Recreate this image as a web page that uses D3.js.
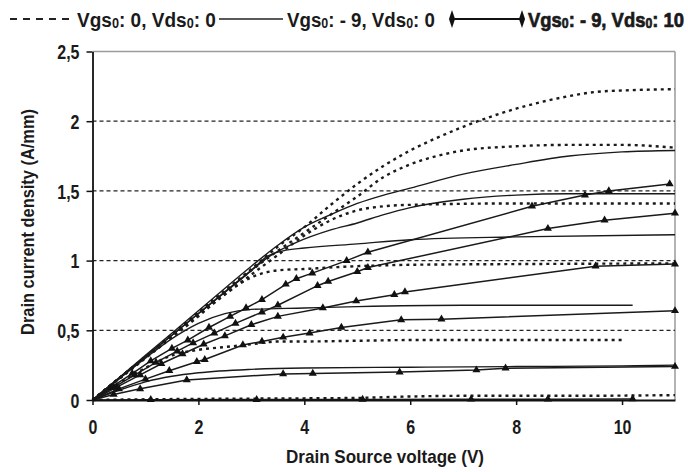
<!DOCTYPE html>
<html><head><meta charset="utf-8">
<script src="https://cdn.jsdelivr.net/npm/d3@7"></script>
<style>
body{margin:0;background:#fff}
text{font-family:"Liberation Sans",Arial,sans-serif;font-weight:bold;fill:#1a1a1a}
</style>
</head><body><svg id="c" width="688" height="472"></svg>
<script>
// ---- tick labels ----
const xTicks = [0, 2, 4, 6, 8, 10];
const yTicks = [0, 0.5, 1, 1.5, 2, 2.5];
const yTickLabels = ["0", "0,5", "1", "1,5", "2", "2,5"];
const xTitle = "Drain Source voltage (V)";
const yTitle = "Drain current density (A/mm)";

// ---- series: Vgs0: 0, Vds0: 0 (dashed) [V, A/mm] ----
const dash1 = [[0,0],[1,0.31],[2,0.63],[3,0.94],[3.5,1.1],[4,1.24],[4.5,1.4],[5,1.55],[5.5,1.68],[6,1.79],[6.5,1.88],[7,1.96],[7.5,2.03],[8,2.09],[8.5,2.14],[9,2.18],[9.5,2.21],[10,2.22],[11,2.23]];
const dash2 = [[0,0],[1,0.31],[2,0.62],[3,0.93],[3.5,1.07],[4,1.2],[4.5,1.33],[5,1.46],[5.5,1.6],[6,1.69],[6.5,1.75],[7,1.79],[8,1.82],[9,1.83],[10,1.83],[11,1.81]];
const dash3 = [[0,0],[1,0.31],[2,0.61],[3,0.9],[3.5,1.04],[4,1.18],[4.5,1.29],[5,1.36],[5.5,1.39],[6,1.4],[8,1.41],[11,1.41]];
const dash4 = [[0,0],[1,0.3],[2,0.6],[2.5,0.76],[3,0.88],[3.5,0.93],[4,0.94],[5,0.96],[6,0.97],[8,0.975],[11,0.98]];
const dash5 = [[0,0],[0.5,0.12],[1,0.23],[1.5,0.32],[2,0.36],[2.5,0.38],[3,0.4],[3.5,0.42],[4,0.42],[5,0.425],[6,0.43],[8,0.43],[10,0.43]];
const dash6 = [[0,0],[1,0.005],[2,0.008],[3,0.01],[4,0.012],[5,0.015],[6,0.025],[7,0.03],[9,0.03],[11,0.035]];

// ---- series: Vgs0: -9, Vds0: 0 (solid) ----
const solid1 = [[0,0],[1,0.32],[2,0.64],[3,0.96],[3.5,1.11],[4,1.24],[4.5,1.33],[5,1.41],[5.5,1.47],[6,1.52],[7,1.62],[8,1.69],[9,1.75],[10,1.78],[11,1.79]];
const solid2 = [[0,0],[1,0.31],[2,0.62],[3,0.93],[3.3,1.02],[3.85,1.13],[4.5,1.22],[5,1.27],[5.5,1.33],[6,1.38],[7,1.44],[8,1.47],[9,1.48],[11,1.48]];
const solid3 = [[0,0],[1,0.31],[2,0.62],[3,0.93],[3.3,1.03],[3.6,1.07],[4,1.09],[5,1.12],[6,1.15],[8,1.17],[11,1.185]];
const solid4 = [[0,0],[0.5,0.15],[1,0.3],[1.5,0.44],[2,0.55],[2.5,0.62],[3,0.65],[4,0.66],[5,0.67],[7,0.68],[10.2,0.68]];
const solid5 = [[0,0],[0.5,0.07],[1,0.13],[1.5,0.17],[2,0.195],[3,0.22],[4,0.23],[6,0.235],[8,0.24],[10,0.245],[11,0.25]];

// ---- series: Vgs0: -9, Vds0: 10 (solid with triangles) ----
const tri1 = [[0,0],[0.35,0.09],[0.75,0.19],[1.1,0.28],[1.5,0.37],[1.8,0.43],[2.2,0.52],[2.6,0.6],[2.9,0.66],[3.2,0.72],[3.65,0.83],[3.85,0.87],[4.15,0.91],[4.8,1.0],[5.2,1.06],[8.3,1.39],[9.3,1.47],[9.75,1.5],[10.9,1.55]];
const tri2 = [[0,0],[0.4,0.09],[0.8,0.18],[1.2,0.27],[1.6,0.35],[1.9,0.41],[2.3,0.48],[2.7,0.55],[3.2,0.63],[3.5,0.68],[4.25,0.82],[4.45,0.85],[5.0,0.92],[5.2,0.95],[8.6,1.23],[9.67,1.29],[11,1.34]];
const tri3 = [[0,0],[0.45,0.09],[0.9,0.18],[1.3,0.26],[1.7,0.33],[2.1,0.4],[2.5,0.46],[3.0,0.54],[3.5,0.6],[4.35,0.66],[4.98,0.71],[5.7,0.755],[5.9,0.775],[9.5,0.96],[11,0.975]];
const tri4 = [[0,0],[0.5,0.08],[1.0,0.15],[1.45,0.21],[1.97,0.275],[2.12,0.29],[2.84,0.395],[3.2,0.42],[3.6,0.45],[4.1,0.48],[4.7,0.52],[5.83,0.575],[6.59,0.58],[11,0.64]];
const tri5 = [[0,0],[0.4,0.04],[0.9,0.08],[1.78,0.144],[3.6,0.187],[4.16,0.19],[5.8,0.2],[7.25,0.215],[7.8,0.228],[11,0.24]];
const tri6 = [[0,0],[1.1,0.002],[3.1,0.003],[5.1,0.004],[7.15,0.005],[8.6,0.006],[10.2,0.008]];

const dashedSeries = [dash1, dash2, dash3, dash4, dash5, dash6];
const solidSeries = [solid1, solid2, solid3, solid4, solid5];
const triSeries = [tri1, tri2, tri3, tri4, tri5, tri6];

const legendLabels = [
  [["Vgs",0],["0",1],[": 0, Vds",0],["0",1],[": 0",0]],
  [["Vgs",0],["0",1],[": - 9, Vds",0],["0",1],[": 0",0]],
  [["Vgs",0],["0",1],[": - 9, Vds",0],["0",1],[": 10",0]]
];

const svg = d3.select("#c");
const x = d3.scaleLinear().domain([0, 11]).range([92.5, 675]);
const y = d3.scaleLinear().domain([0, 2.5]).range([400, 51.5]);

// fit a text element horizontally to a target width by scaling
function fitText(sel, px, py, width, anchor) {
  const w = sel.node().getComputedTextLength();
  const k = width / w;
  sel.attr("x", 0).attr("y", 0);
  if (anchor === "middle") sel.attr("text-anchor", "middle");
  sel.attr("transform", `translate(${px},${py}) scale(${k},1)`);
}

// borders (top/right gray)
svg.append("line").attr("x1", x(0)).attr("x2", x(11)).attr("y1", y(2.5)).attr("y2", y(2.5)).attr("stroke", "#9a9a9a").attr("stroke-width", 1.5);
svg.append("line").attr("x1", x(11)).attr("x2", x(11)).attr("y1", y(2.5)).attr("y2", y(0)).attr("stroke", "#9a9a9a").attr("stroke-width", 1.5);

// gridlines
svg.append("g").selectAll("line").data(yTicks.filter(v => v > 0 && v < 2.5)).join("line")
  .attr("x1", x(0)).attr("x2", x(11)).attr("y1", d => y(d)).attr("y2", d => y(d))
  .attr("stroke", "#222").attr("stroke-width", 1.3).attr("stroke-dasharray", "4,3");

const line = d3.line().x(d => x(d[0])).y(d => y(d[1])).curve(d3.curveMonotoneX);
const lineLin = d3.line().x(d => x(d[0])).y(d => y(d[1]));

svg.append("g").selectAll("path").data(dashedSeries).join("path")
  .attr("d", line).attr("fill", "none").attr("stroke", "#1a1a1a")
  .attr("stroke-width", 2.4).attr("stroke-dasharray", "3,4");

svg.append("g").selectAll("path").data(solidSeries).join("path")
  .attr("d", line).attr("fill", "none").attr("stroke", "#1a1a1a").attr("stroke-width", 1.4);

svg.append("g").selectAll("path").data(triSeries).join("path")
  .attr("d", lineLin).attr("fill", "none").attr("stroke", "#1a1a1a").attr("stroke-width", 1.5);

const tri = d3.symbol().type(d3.symbolTriangle).size(28);
svg.append("g").selectAll("g").data(triSeries).join("g")
  .selectAll("path").data(d => d.slice(1)).join("path")
  .attr("d", tri).attr("transform", d => `translate(${x(d[0])},${y(d[1])})`).attr("fill", "#111");

// axes
const sx = 0.8;
const yAxis = svg.append("g").attr("transform", `translate(${x(0)},0)`)
  .call(d3.axisLeft(y).tickValues(yTicks).tickFormat((d, i) => yTickLabels[i]).tickSize(6).tickSizeOuter(0));
const xAxis = svg.append("g").attr("transform", `translate(0,${y(0)})`)
  .call(d3.axisBottom(x).tickValues(xTicks).tickFormat(d => d).tickSize(5).tickSizeOuter(0));
[xAxis, yAxis].forEach(a => {
  a.select(".domain").attr("stroke", "#111").attr("stroke-width", 1.8);
  a.selectAll(".tick line").attr("stroke", "#111").attr("stroke-width", 1.5);
  a.selectAll("text").attr("font-size", 20).attr("font-family", null).attr("fill", "#1a1a1a");
});
yAxis.selectAll(".tick text").attr("x", -13 / sx).attr("dy", "0.36em").attr("transform", `scale(${sx},1)`);
xAxis.selectAll(".tick text").attr("y", 20).attr("dy", "0.71em").attr("transform", `scale(${sx},1)`).attr("x", 0);

// axis titles
const xt = svg.append("text").attr("font-size", 19).text(xTitle);
fitText(xt, 385, 463, 198, "middle");
const yt = svg.append("g").attr("transform", "translate(34,222) rotate(-90)")
  .append("text").attr("font-size", 19).text(yTitle);
fitText(yt, 0, 0, 226, "middle");

// legend
const lg = svg.append("g");
const ly = 19;
lg.append("line").attr("x1", 10).attr("x2", 73).attr("y1", ly).attr("y2", ly)
  .attr("stroke", "#222").attr("stroke-width", 2).attr("stroke-dasharray", "7,6");
lg.append("line").attr("x1", 219).attr("x2", 283).attr("y1", ly).attr("y2", ly).attr("stroke", "#222").attr("stroke-width", 1.4);
lg.append("line").attr("x1", 452).attr("x2", 522).attr("y1", ly).attr("y2", ly).attr("stroke", "#111").attr("stroke-width", 2);
const dia = d3.symbol().type(d3.symbolDiamond).size(50);
[452, 522].forEach(px => lg.append("path").attr("d", dia).attr("transform", `translate(${px},${ly}) scale(0.8,1.35)`).attr("fill", "#111"));

const lx = [[77, 139], [287, 148], [528, 156]];
legendLabels.forEach((parts, i) => {
  const t = lg.append("text").attr("font-size", 21);
  if (i === 2) t.attr("stroke", "#1a1a1a").attr("stroke-width", 0.7);
  parts.forEach((p, j) => {
    const s = t.append("tspan").text(p[0]);
    const prev = j > 0 ? parts[j - 1] : null;
    if (p[1]) s.attr("font-size", 14).attr("dy", 1);
    else if (prev && prev[1]) s.attr("dy", -1);
  });
  fitText(t, lx[i][0], ly + 8, lx[i][1]);
});
</script></body></html>
